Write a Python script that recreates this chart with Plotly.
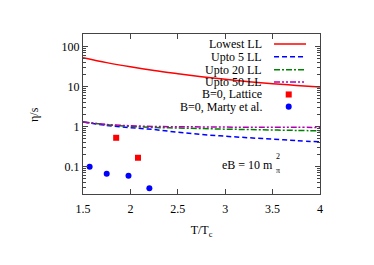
import plotly.graph_objects as go

T = [1.5, 1.75, 2.0, 2.25, 2.5, 2.75, 3.0, 3.25, 3.5, 3.75, 4.0]
lowest_ll = [53, 40, 31.5, 25.5, 21.2, 17.8, 15.3, 13.4, 11.9, 10.8, 9.8]
upto5_ll = [1.31, 1.08, 0.95, 0.85, 0.73, 0.64, 0.58, 0.53, 0.49, 0.45, 0.42]
upto20_ll = [1.31, 1.12, 1.02, 0.96, 0.93, 0.90, 0.87, 0.85, 0.83, 0.81, 0.79]
upto50_ll = [1.31, 1.14, 1.06, 1.02, 1.00, 0.99, 0.98, 0.975, 0.97, 0.97, 0.96]

lattice_T = [1.85, 2.08]
lattice_v = [0.53, 0.168]
marty_T = [1.57, 1.75, 1.98, 2.2]
marty_v = [0.1, 0.067, 0.06, 0.029]

series_names = ["Lowest LL", "Upto 5 LL", "Upto 20 LL", "Upto 50 LL",
                "B=0, Lattice", "B=0, Marty et al."]
ytick_vals = [0.1, 1, 10, 100]
ytick_text = ["0.1", "1", "10", "100"]
xtick_vals = [1.5, 2, 2.5, 3, 3.5, 4]
xtick_text = ["1.5", "2", "2.5", "3", "3.5", "4"]

RED = "#ff0000"
BLUE = "#0000ff"
GREEN = "#008000"
PURPLE = "#b000b0"
FONT = "Liberation Serif"

line_styles = [
    (lowest_ll, RED, "solid"),
    (upto5_ll, BLUE, "5px,3px"),
    (upto20_ll, GREEN, "6px,2px,2px,2px"),
    (upto50_ll, PURPLE, "6px,2px,2px,2px,2px,2px"),
]

fig = go.Figure()
for (vals, col, dash), name in zip(line_styles, series_names[:4]):
    fig.add_trace(go.Scatter(x=T, y=vals, mode="lines", name=name,
                             line=dict(color=col, width=1.5, dash=dash, shape="spline"),
                             showlegend=False))
fig.add_trace(go.Scatter(x=lattice_T, y=lattice_v, mode="markers", name=series_names[4],
                         marker=dict(symbol="square", size=6, color=RED), showlegend=False))
fig.add_trace(go.Scatter(x=marty_T, y=marty_v, mode="markers", name=series_names[5],
                         marker=dict(symbol="circle", size=6, color=BLUE), showlegend=False))

# custom gnuplot-style legend (text right-aligned, sample to the right)
row_y = [0.9375, 0.858, 0.777, 0.70, 0.622, 0.546]
text_x = 0.764
for i, name in enumerate(series_names):
    fig.add_annotation(x=text_x, y=row_y[i], xref="paper", yref="paper", text=name,
                       showarrow=False, xanchor="right", yanchor="middle",
                       font=dict(family=FONT, size=12, color="black"))
for i, (vals, col, dash) in enumerate(line_styles):
    fig.add_shape(type="line", xref="paper", yref="paper", x0=0.806, x1=0.941,
                  y0=row_y[i], y1=row_y[i], line=dict(color=col, width=1.5, dash=dash))
fig.add_shape(type="rect", xref="paper", yref="paper", x0=0.868 - 0.0127, x1=0.868 + 0.0127,
              y0=row_y[4] - 0.019, y1=row_y[4] + 0.019, fillcolor=RED, line=dict(width=0))
fig.add_shape(type="circle", xref="paper", yref="paper", x0=0.868 - 0.0127, x1=0.868 + 0.0127,
              y0=row_y[5] - 0.019, y1=row_y[5] + 0.019, fillcolor=BLUE, line=dict(width=0))

# eB annotation
fig.add_annotation(x=0.81, y=0.181, xref="paper", yref="paper", text="eB = 10 m",
                   showarrow=False, xanchor="right", yanchor="middle",
                   font=dict(family=FONT, size=12, color="black"))
fig.add_annotation(x=0.806, y=0.235, xref="paper", yref="paper", text="2",
                   showarrow=False, xanchor="left", yanchor="middle",
                   font=dict(family=FONT, size=8, color="black"))
fig.add_annotation(x=0.806, y=0.15, xref="paper", yref="paper", text="π",
                   showarrow=False, xanchor="left", yanchor="middle",
                   font=dict(family=FONT, size=8, color="black"))

# y-axis title
fig.add_annotation(x=-0.207, y=0.5, xref="paper", yref="paper", text="η/s",
                   showarrow=False, textangle=-90, xanchor="center", yanchor="middle",
                   font=dict(family=FONT, size=12, color="black"))

axis_common = dict(showline=True, linecolor="#444", linewidth=1, mirror="ticks",
                   ticks="inside", ticklen=5, tickcolor="#444", showgrid=False,
                   zeroline=False, tickfont=dict(family=FONT, size=12, color="black"))

fig.update_xaxes(range=[1.5, 4], tickvals=xtick_vals, ticktext=xtick_text,
                 ticklabelstandoff=4,
                 title=dict(text="T/T<sub>c</sub>", font=dict(family=FONT, size=12, color="black"),
                            standoff=10),
                 **axis_common)
fig.update_yaxes(type="log", range=[-1.68, 2.317], tickvals=ytick_vals, ticktext=ytick_text,
                 minor=dict(ticks="inside", ticklen=3, tickcolor="#444", dtick="D1", showgrid=False),
                 **axis_common)

fig.update_layout(width=358, height=249, margin=dict(l=75, r=46, t=26, b=63, autoexpand=False),
                  paper_bgcolor="white", plot_bgcolor="white", showlegend=False,
                  font=dict(family=FONT, size=12, color="black"))

fig.write_html("out.html")
